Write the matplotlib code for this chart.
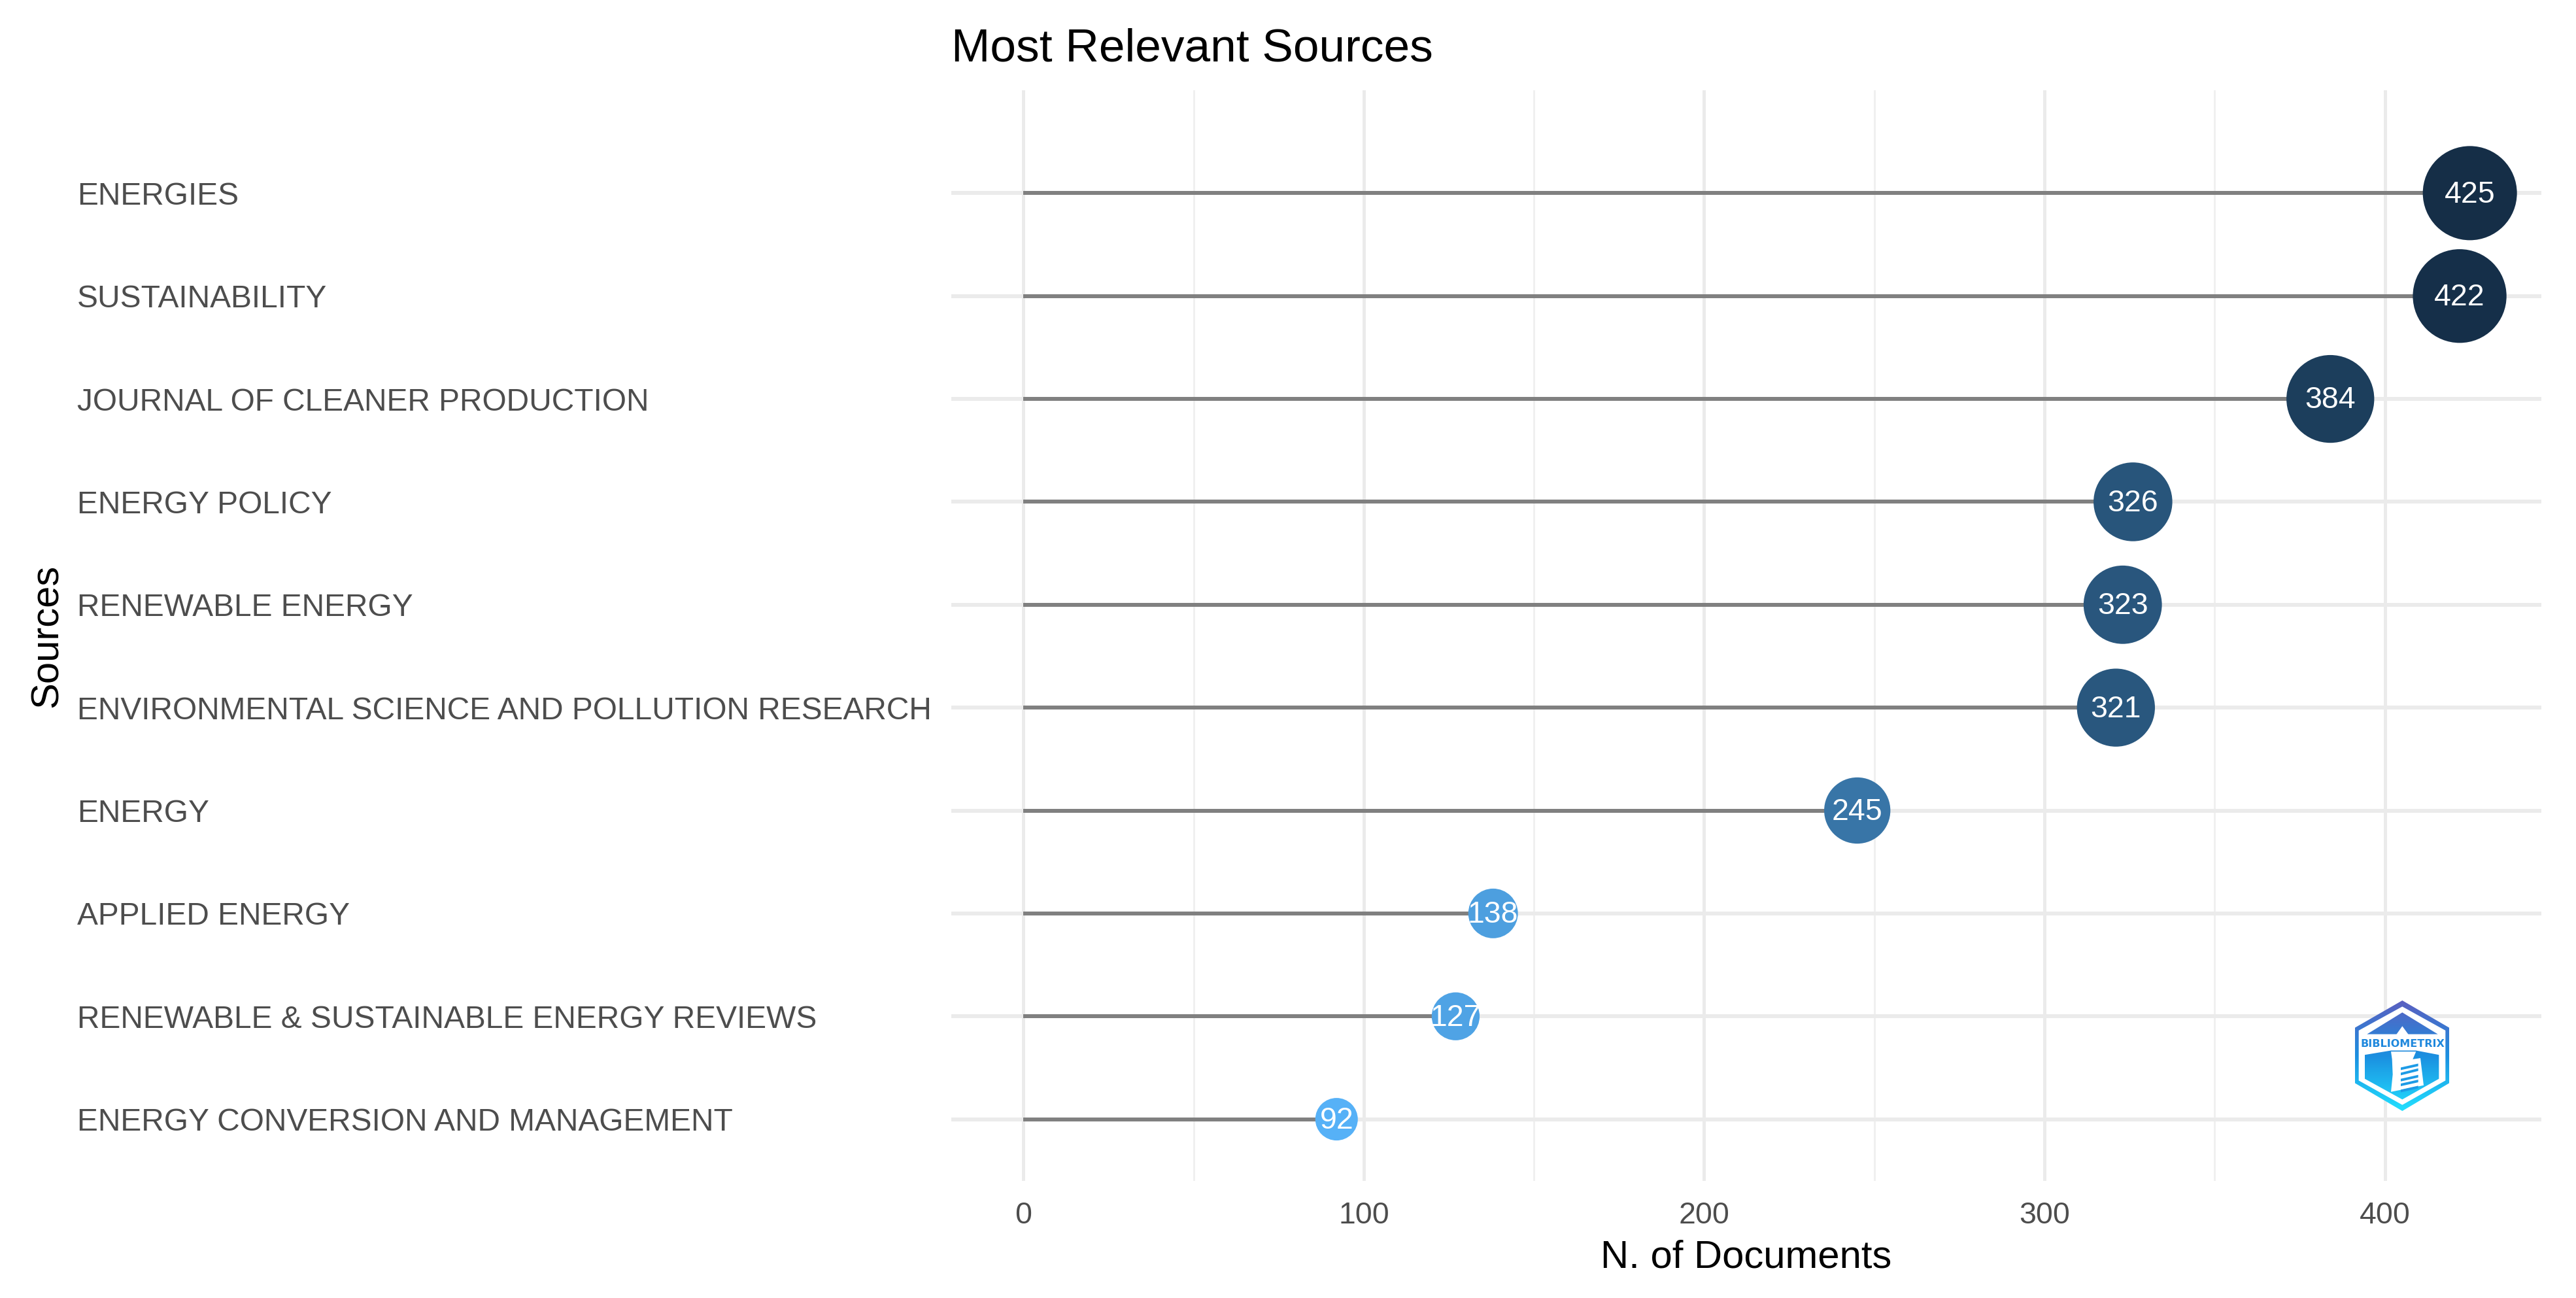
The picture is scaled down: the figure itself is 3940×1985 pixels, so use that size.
import matplotlib
matplotlib.use('Agg')
import matplotlib.pyplot as plt
import numpy as np
from matplotlib.colors import LinearSegmentedColormap, Normalize
from matplotlib.patches import PathPatch, Polygon
from matplotlib.path import Path

plt.rcParams['font.family'] = ['Liberation Sans', 'DejaVu Sans']

sources = ['ENERGIES', 'SUSTAINABILITY', 'JOURNAL OF CLEANER PRODUCTION', 'ENERGY POLICY',
           'RENEWABLE ENERGY', 'ENVIRONMENTAL SCIENCE AND POLLUTION RESEARCH', 'ENERGY',
           'APPLIED ENERGY', 'RENEWABLE & SUSTAINABLE ENERGY REVIEWS',
           'ENERGY CONVERSION AND MANAGEMENT']
documents = [425, 422, 384, 326, 323, 321, 245, 138, 127, 92]
major_ticks = [0, 100, 200, 300, 400]
minor_ticks = [50, 150, 250, 350]

W, H = 3940, 1985
PX = 0.72  # points per pixel at dpi 100

fig = plt.figure(figsize=(W / 100, H / 100), dpi=100, facecolor='white')
left, right, top, bottom = 1455, 3887, 138, 1806
ax = fig.add_axes([left / W, 1 - bottom / H, (right - left) / W, (bottom - top) / H])

y = np.arange(len(sources))
docs = np.array(documents)
cmap = LinearSegmentedColormap.from_list('gg', ['#56B1F7', '#132B43'])
norm = Normalize(docs.min(), docs.max() + 8)
# point diameter grows with the count, 65 px to 144 px
diam = (65 + (docs - docs.min()) / (docs.max() - docs.min()) * 79) * PX

ax.hlines(y, 0, docs, color='#808080', lw=6 * PX, zorder=2)
ax.scatter(docs, y, s=diam ** 2, c=docs, cmap=cmap, norm=norm, linewidths=0, zorder=3)
for xv, yv in zip(documents, y):
    ax.text(xv, yv + 0.015, str(xv), color='white', fontsize=33.5, ha='center', va='center', zorder=4)

ax.set_xlim(-21.2, 446)
ax.set_ylim(9.6, -1.0)
ax.set_xticks(major_ticks)
ax.set_xticks(minor_ticks, minor=True)
ax.set_yticks(y)
ax.set_yticklabels(sources)
ax.grid(True, which='major', axis='y', color='#ebebeb', lw=6 * PX, zorder=0)
ax.grid(True, which='major', axis='x', color='#ebebeb', lw=5 * PX, zorder=0)
ax.grid(True, which='minor', axis='x', color='#f0f0f0', lw=3 * PX, zorder=0)
ax.set_axisbelow(True)
for s in ax.spines.values():
    s.set_visible(False)
ax.tick_params(which='both', length=0)
ax.tick_params(axis='x', labelsize=33.5, labelcolor='#4d4d4d', pad=22)
ax.tick_params(axis='y', labelsize=34.5, labelcolor='#4d4d4d', pad=(left - 118) * PX)
for lab in ax.get_yticklabels():
    lab.set_ha('left')

ax.set_title('Most Relevant Sources', loc='left', fontsize=51.3, color='black', pad=32)
ax.set_xlabel('N. of Documents', fontsize=43, color='black', va='baseline')
ax.xaxis.set_label_coords(0.5, -(1938 - bottom) / (bottom - top))
ax.set_ylabel('Sources', fontsize=43, color='black', va='center')
ax.yaxis.set_label_coords((72 - left) / (right - left), 0.5)

# package logo, drawn in its own small axes
lx0, lx1, ly0, ly1 = 3602, 3746, 1530, 1699
logo = fig.add_axes([lx0 / W, 1 - ly1 / H, (lx1 - lx0) / W, (ly1 - ly0) / H])
logo.set_xlim(605, 1037)
logo.set_ylim(748, 240)
logo.axis('off')
grad = LinearSegmentedColormap.from_list('logo', ['#5b5fc0', '#1b8fe0', '#22e0ff'])
ramp = np.linspace(0, 1, 256).reshape(-1, 1)


def filled(points, z):
    im = logo.imshow(ramp, cmap=grad, extent=(605, 1037, 748, 240), aspect='auto', zorder=z)
    patch = PathPatch(Path(points + points[:1]), transform=logo.transData, fc='none', ec='none')
    logo.add_patch(patch)
    im.set_clip_path(patch)


filled([(822, 240), (1037, 365), (1037, 620), (822, 748), (605, 620), (605, 365)], 1)
logo.add_patch(Polygon([(822, 268), (1020, 378), (1020, 608), (822, 720), (622, 608), (622, 378)],
                       fc='white', ec='none', zorder=2))
filled([(822, 295), (985, 395), (660, 395)], 3)
filled([(650, 490), (770, 470), (885, 470), (990, 490), (990, 600), (822, 695), (650, 600)], 3)
logo.add_patch(Polygon([(822, 358), (860, 410), (785, 410)], fc='white', ec='none', zorder=4))
logo.add_patch(Polygon([(770, 475), (885, 475), (870, 510), (905, 505), (920, 630), (770, 660),
                        (778, 580), (775, 510)], fc='white', ec='none', zorder=4))
for ya, yb in [(548, 530), (572, 552), (600, 582), (622, 604), (650, 632)]:
    logo.add_patch(Polygon([(815, ya), (895, yb), (895, yb + 12), (815, ya + 12)],
                           fc='#1d9be6', ec='none', zorder=5))
logo.text(824, 440, 'BIBLIOMETRIX', color='#1f88dd', fontsize=11.5, fontweight='bold',
          ha='center', va='center', zorder=6, family=['DejaVu Sans'])

fig.savefig('out.png', dpi=100, facecolor='white')
